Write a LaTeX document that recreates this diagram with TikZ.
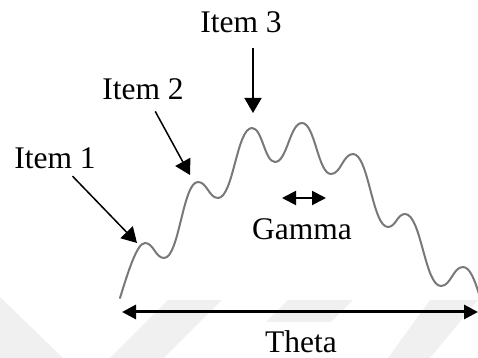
\documentclass[tikz,border=0pt]{standalone}
\usepackage{fontspec}
\setmainfont{Liberation Serif}
\usetikzlibrary{arrows.meta}

\tikzset{
  etichetta/.style={inner sep=0pt, font=\fontsize{15.75}{18}\selectfont},
  freccia/.style={line width=0.75pt, -{Triangle[length=7.5pt,width=8.5pt]}},
  misura/.style={line width=1.5pt, {Triangle[length=7pt,width=7pt]}-{Triangle[length=7pt,width=7pt]}},
  onda/.style={line width=1pt, black!53, line join=round, line cap=round},
  filigrana/.style={fill=black!6, draw=none},
}

\begin{document}
\begin{tikzpicture}[x=0.5pt, y=-0.5pt]
    \useasboundingbox (0,0) rectangle (478,358);
    % filigrana di sfondo
    \fill[filigrana] (0,297) -- (63,358) -- (0,358) -- cycle;
    \fill[filigrana] (110,358) -- (168,300) -- (222,300) -- (164,358) -- cycle;
    \fill[filigrana] (288,300) -- (353,300) -- (331,322) -- (266,322) -- cycle;
    \fill[filigrana] (430,300) -- (478,300) -- (430,358) -- (388,358) -- cycle;

    % curva ondulata
    \draw[onda] (120,298) .. controls (128,272) and (137,243) .. (145,243)
      \foreach \x/\y [remember=\x as \px (initially 145), remember=\y as \py (initially 243)]
        in {164/258, 198/182, 218/198, 252/128, 275/162, 302/123,
            331/174, 353/154, 388/227, 405/214, 441/286, 463/267} {
        .. controls ({\px+0.45*(\x-\px)},\py) and ({\x-0.45*(\x-\px)},\y) .. (\x,\y)
      }
      .. controls (470,267) and (475,281) .. (479,294);

    % etichette
    \node[etichetta] (item1) at (55,158) {Item 1};
    \node[etichetta] (item2) at (143,89) {Item 2};
    \node[etichetta] (item3) at (241,22) {Item 3};
    \node[etichetta] (gamma) at (302,229) {Gamma};
    \node[etichetta] (theta) at (301,342) {Theta};

    \coordinate (p1) at (137,243);
    \coordinate (p2) at (190,175);
    \coordinate (p3) at (253,113);
    \coordinate (g1) at (282,198);
    \coordinate (g2) at (326,198);
    \coordinate (t1) at (122,312);
    \coordinate (t2) at (478,312);

    % frecce
    \draw[freccia, shorten <=5pt] (item1) -- (p1);
    \draw[freccia, shorten <=6.5pt] (item2) -- (p2);
    \draw[freccia, shorten <=7.5pt] (p3 |- item3.south) -- (p3);
    \draw[misura, line width=1pt] (g1) -- (g2);
    \draw[misura] (t1) -- (t2);
\end{tikzpicture}
\end{document}
